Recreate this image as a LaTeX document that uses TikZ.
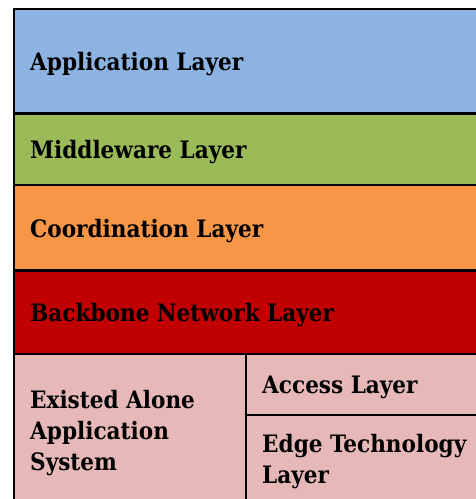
\documentclass[tikz,border=0pt]{standalone}
\usepackage{fontspec}
\setmainfont{DejaVu Serif Condensed}
\definecolor{appblue}{HTML}{8DB3E2}
\definecolor{midgreen}{HTML}{9BBB59}
\definecolor{coordorange}{HTML}{F79646}
\definecolor{backred}{HTML}{C00000}
\definecolor{basepink}{HTML}{E6B9B8}
\begin{document}
\begin{tikzpicture}[x=1pt,y=-1pt,
  lbl/.style={anchor=west,inner sep=0pt,align=left,font=\fontsize{24}{31}\selectfont\bfseries},
  rule/.style={line width=2.2pt,black}]
\useasboundingbox (0,0) rectangle (476,499);
% layer fills
\fill[appblue] (14,9) rectangle (476,113.5);
\fill[midgreen] (14,113.5) rectangle (476,185);
\fill[coordorange] (14,185) rectangle (476,270.5);
\fill[backred] (14,270.5) rectangle (476,354);
\fill[basepink] (14,354) rectangle (476,499);
% corner points of the grid
\coordinate (tl) at (14,9);
\coordinate (tr) at (476,9);
\coordinate (bl) at (14,499);
\coordinate (a1) at (14,113.5);  \coordinate (b1) at (476,113.5);
\coordinate (a2) at (14,185);    \coordinate (b2) at (476,185);
\coordinate (a3) at (14,270.5);  \coordinate (b3) at (476,270.5);
\coordinate (a4) at (14,354);    \coordinate (b4) at (476,354);
\coordinate (v1) at (246,354);   \coordinate (v2) at (246,499);
\coordinate (h1) at (246,415);   \coordinate (h2) at (476,415);
% grid lines
\draw[rule] (tr) -- (tl) -- (bl);
\draw[rule] (a1) -- (b1);
\draw[rule] (a2) -- (b2);
\draw[rule] (a3) -- (b3);
\draw[rule] (a4) -- (b4);
\draw[rule] (v1) -- (v2);
\draw[rule] (h1) -- (h2);
% labels
\node[lbl] (app) at (30,64) {Application Layer};
\node[lbl] (mid) at (30,152) {Middleware Layer};
\node[lbl] (coord) at (30,231) {Coordination Layer};
\node[lbl] (back) at (30,315) {Backbone Network Layer};
\node[lbl] (alone) at (30,433) {Existed Alone\\Application\\System};
\node[lbl] (access) at (262,387) {Access Layer};
\node[lbl] (edge) at (262,462) {Edge Technology\\Layer};
\end{tikzpicture}
\end{document}
